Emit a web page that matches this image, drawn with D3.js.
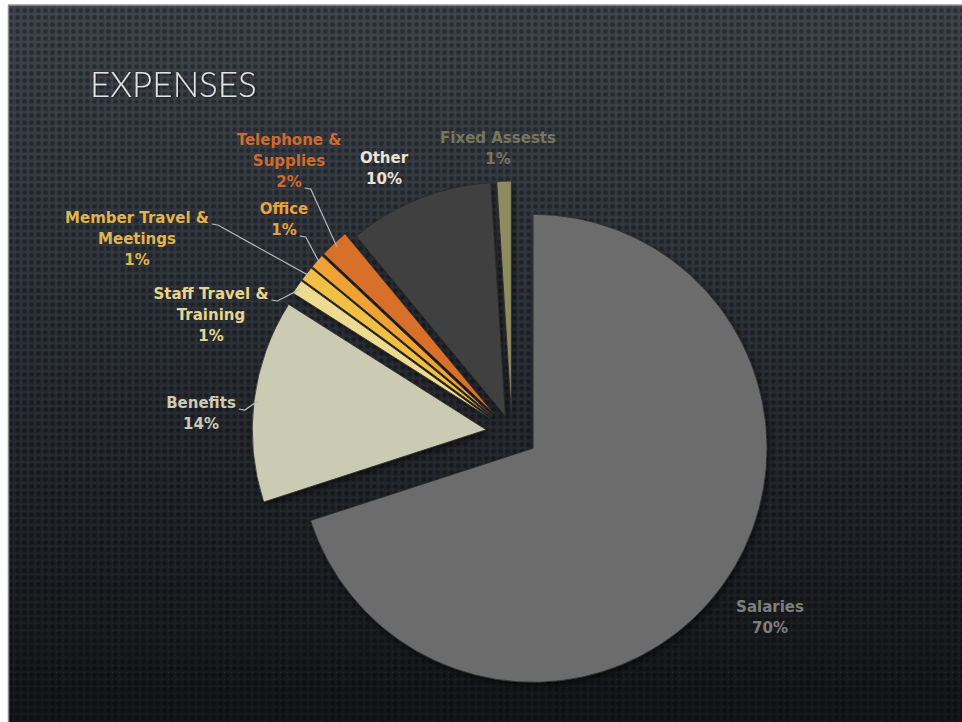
<!DOCTYPE html>
<html>
<head>
<meta charset="utf-8">
<script src="https://cdn.jsdelivr.net/npm/d3@7/dist/d3.min.js"></script>
<style>
  html, body { margin: 0; padding: 0; background: #ffffff; }
  svg { display: block; }
</style>
</head>
<body>
<svg id="chart" width="962" height="722"></svg>
<script>
// Expense breakdown (percent of total), drawn clockwise from 12 o'clock
const categories = ["Salaries", "Benefits", "Staff Travel & Training", "Member Travel & Meetings",
                    "Office", "Telephone & Supplies", "Other", "Fixed Assests"];
const values = [70, 14, 1, 1, 1, 2, 10, 1];
const labelLines = [["Salaries"], ["Benefits"], ["Staff Travel &", "Training"], ["Member Travel &", "Meetings"],
                    ["Office"], ["Telephone &", "Supplies"], ["Other"], ["Fixed Assests"]];

// Presentation settings
const sliceColors = ["#6c6c6c", "#cbcab2", "#eedb92", "#f2bf45", "#f0a235", "#d8702c", "#404040", "#8c8c60"];
const labelColors = ["#7e7e7e", "#cbcab4", "#e6d58e", "#e2b44c", "#e9a33c", "#d06b2d", "#ece4d4", "#777859"];
// how far each slice is pulled out from the centre
const explodeBy = [26, 26, 26, 26, 26, 26, 18, 18];
// first-line baseline centre of each label, and which line carries the leader line (-1 = none)
const labelPos = [[770, 612], [201, 408], [211, 299], [137, 223], [284, 214], [289, 145], [384, 163], [498, 143]];
const leaderFrom = [-1, 0, 0, 0, 1, 2, -1, -1];

const W = 962, H = 722;
const cx = 512, cy = 433, radius = 234;

const svg = d3.select("#chart");
const defs = svg.append("defs");

// slide background: vertical gradient with a dotted texture
const grad = defs.append("linearGradient").attr("id", "bg").attr("x1", 0).attr("y1", 0).attr("x2", 0).attr("y2", 1);
grad.append("stop").attr("offset", "0%").attr("stop-color", "#3e434c");
grad.append("stop").attr("offset", "45%").attr("stop-color", "#2b2f36");
grad.append("stop").attr("offset", "100%").attr("stop-color", "#141518");

const pat = defs.append("pattern").attr("id", "dots").attr("patternUnits", "userSpaceOnUse")
  .attr("width", 7).attr("height", 7);
pat.append("rect").attr("x", 1.2).attr("y", 1.2).attr("width", 4.6).attr("height", 4.6).attr("rx", 2)
  .attr("fill", "#000").attr("opacity", 0.32);
pat.append("circle").attr("cx", 0).attr("cy", 0).attr("r", 1.3).attr("fill", "#fff").attr("opacity", 0.06);

const shadow = defs.append("filter").attr("id", "shadow").attr("x", "-20%").attr("y", "-20%")
  .attr("width", "140%").attr("height", "140%");
shadow.append("feDropShadow").attr("dx", 2).attr("dy", 3).attr("stdDeviation", 3)
  .attr("flood-color", "#000").attr("flood-opacity", 0.55);

const titleShadow = defs.append("filter").attr("id", "tshadow");
titleShadow.append("feDropShadow").attr("dx", 1).attr("dy", 1).attr("stdDeviation", 1)
  .attr("flood-color", "#000").attr("flood-opacity", 0.6);

svg.append("rect").attr("x", 8).attr("y", 5).attr("width", W - 8).attr("height", H - 5).attr("fill", "url(#bg)");
svg.append("rect").attr("x", 8).attr("y", 5).attr("width", W - 8).attr("height", H - 5).attr("fill", "url(#dots)");
// thin frame on the top and left edges of the slide
svg.append("line").attr("x1", 8).attr("y1", 5).attr("x2", W).attr("y2", 5).attr("stroke", "#9a9a9a").attr("stroke-width", 1.5);
svg.append("line").attr("x1", 8.5).attr("y1", 5).attr("x2", 8.5).attr("y2", H).attr("stroke", "#8a8a8a").attr("stroke-width", 1.5);

// title
svg.append("text").attr("x", 90).attr("y", 97)
  .attr("font-family", "Lato, 'Open Sans', sans-serif").attr("font-weight", 300).attr("font-size", 35)
  .attr("fill", "#e2e2e2").attr("filter", "url(#tshadow)")
  .text("EXPENSES");

// pie
const pie = d3.pie().sort(null).value(d => d.value).startAngle(0).endAngle(2 * Math.PI);
const data = categories.map((c, i) => ({ name: c, value: values[i], i }));
const arcs = pie(data);
const arc = d3.arc().innerRadius(0).outerRadius(radius);

const offset = a => {
  const mid = (a.startAngle + a.endAngle) / 2;
  const d = explodeBy[a.index];
  return [d * Math.sin(mid), -d * Math.cos(mid)];
};

const pieG = svg.append("g").attr("transform", `translate(${cx},${cy})`).attr("filter", "url(#shadow)");
pieG.selectAll("path").data(arcs).join("path")
  .attr("transform", a => `translate(${offset(a)})`)
  .attr("d", arc)
  .attr("fill", a => sliceColors[a.index])
  .attr("stroke", "#2b2b2b").attr("stroke-width", 0.8).attr("stroke-linejoin", "round");

// labels
const labelG = svg.append("g")
  .attr("font-family", "'DejaVu Sans', sans-serif").attr("font-weight", "bold").attr("font-size", 15)
  .attr("text-anchor", "middle");

arcs.forEach(a => {
  const i = a.index;
  const lines = labelLines[i].concat([values[i] + "%"]);
  const [lx, ly] = labelPos[i];
  const step = 21;
  const texts = lines.map((t, k) => labelG.append("text")
    .attr("x", lx).attr("y", ly + k * step)
    .attr("fill", labelColors[i]).text(t));

  if (leaderFrom[i] >= 0) {
    const k = leaderFrom[i];
    const w = texts[k].node().getComputedTextLength();
    const sx = lx + w / 2 + 3, sy = ly + k * step + 1;
    const mid = (a.startAngle + a.endAngle) / 2;
    const [ox, oy] = offset(a);
    const r = radius - 4;
    const tx = cx + ox + r * Math.sin(mid), ty = cy + oy - r * Math.cos(mid);
    svg.append("polyline")
      .attr("points", [[sx, sy], [sx + 6, sy + 1], [tx, ty]].map(p => p.join(",")).join(" "))
      .attr("fill", "none").attr("stroke", "#b4bac2").attr("stroke-width", 1.2);
  }
});
</script>
</body>
</html>
